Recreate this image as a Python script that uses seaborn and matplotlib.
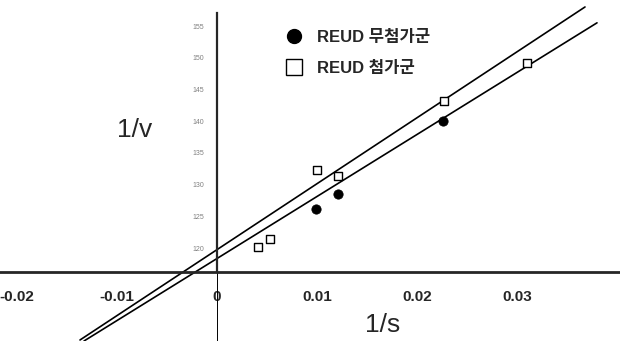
import numpy as np
import pandas as pd
import matplotlib
matplotlib.use("Agg")
import matplotlib.pyplot as plt
import seaborn as sns
from matplotlib.lines import Line2D

# ---- data ----
inv_s_ctrl = [0.0099, 0.0121, 0.0226]          # REUD 무첨가군 (filled circles)
inv_v_ctrl = [126.2, 128.5, 140.0]
inv_s_add = [0.0041, 0.0053, 0.0100, 0.0121, 0.0227, 0.0310]   # REUD 첨가군 (open squares)
inv_v_add = [120.2, 121.4, 132.3, 131.4, 143.2, 149.2]

# fitted lines (end points)
line_upper_x = [-0.0137, 0.0368]
line_upper_y = [105.5, 158.0]
line_lower_x = [-0.0133, 0.0380]
line_lower_y = [105.34, 155.5]

x_ticks = [-0.02, -0.01, 0, 0.01, 0.02, 0.03]
x_ticklabels = ["-0.02", "-0.01", "0", "0.01", "0.02", "0.03"]
y_ticks = [120, 125, 130, 135, 140, 145, 150, 155]
y_ticklabels = ["120", "125", "130", "135", "140", "145", "150", "155"]
labels = ["REUD 무첨가군", "REUD 첨가군"]

sns.set_style("white")
plt.rcParams["font.family"] = ["Liberation Sans", "Noto Sans CJK KR", "DejaVu Sans"]

fig = plt.figure(figsize=(6.2, 3.41), dpi=100)
ax = fig.add_axes([0, 0, 1, 1])

df_ctrl = pd.DataFrame({"x": inv_s_ctrl, "y": inv_v_ctrl})
df_add = pd.DataFrame({"x": inv_s_add, "y": inv_v_add})
df_up = pd.DataFrame({"x": line_upper_x, "y": line_upper_y})
df_lo = pd.DataFrame({"x": line_lower_x, "y": line_lower_y})

sns.lineplot(data=df_up, x="x", y="y", ax=ax, color="black", lw=1.2, sort=False)
sns.lineplot(data=df_lo, x="x", y="y", ax=ax, color="black", lw=1.2, sort=False)
sns.scatterplot(data=df_ctrl, x="x", y="y", ax=ax, marker="o", s=45,
                color="black", edgecolor="black", zorder=5)
sns.scatterplot(data=df_add, x="x", y="y", ax=ax, marker="s", s=36,
                facecolor="white", edgecolor="black", linewidth=1.0, zorder=5)

y_axis_pos = 116.22
ax.set_xlim(-0.0217, 0.0403)
ax.set_ylim(105.34, 159.1)

for s in ["top", "right"]:
    ax.spines[s].set_visible(False)
ax.spines["left"].set_position(("data", 0))
ax.spines["left"].set_bounds(y_axis_pos, 157.0)
ax.spines["left"].set_linewidth(1.6)
ax.spines["bottom"].set_position(("data", y_axis_pos))
ax.spines["bottom"].set_linewidth(2.0)
ax.axvline(0, ymin=0, ymax=(y_axis_pos - 105.34) / (159.1 - 105.34), color="black", lw=0.7)

ax.set_xticks(x_ticks)
ax.set_xticklabels(x_ticklabels, fontsize=11, fontweight="bold")
ax.tick_params(axis="x", length=0, pad=13)
ax.set_yticks(y_ticks)
ax.set_yticklabels(y_ticklabels, fontsize=5, color="#808080")
ax.tick_params(axis="y", direction="out", length=5, width=1.2, pad=4, color="black")

ax.set_xlabel("1/s", fontsize=19, va="center", ha="center")
ax.xaxis.set_label_coords(383 / 620, 1 - 325 / 341)
ax.set_ylabel("1/v", fontsize=19, rotation=0, va="center", ha="center")
ax.yaxis.set_label_coords(135 / 620, 1 - 130 / 341)

handles = [
    Line2D([], [], marker="o", ls="", color="black", markersize=10),
    Line2D([], [], marker="s", ls="", markerfacecolor="white", markeredgecolor="black",
           markersize=11, markeredgewidth=1.0),
]
ax.legend(handles, labels, loc="upper left", bbox_to_anchor=(262 / 620, 1 - 15 / 341),
          frameon=False, handletextpad=0.4, labelspacing=0.95,
          prop={"weight": "bold", "size": 12})

fig.savefig("out.png", dpi=100)
